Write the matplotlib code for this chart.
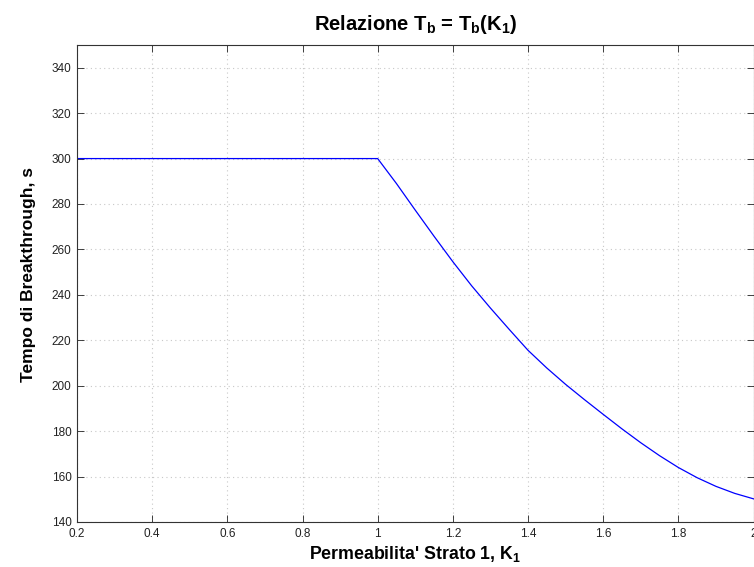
import matplotlib
matplotlib.use("Agg")
import matplotlib.pyplot as plt

# data
k1 = [0.2, 1.0, 1.05, 1.1, 1.15, 1.2, 1.25, 1.3, 1.35, 1.4, 1.45, 1.5,
      1.55, 1.6, 1.65, 1.7, 1.75, 1.8, 1.85, 1.9, 1.95, 2.0]
tb = [300.0, 300.0, 289.0, 277.3, 265.8, 254.6, 244.0, 234.2, 224.8, 215.6, 207.8, 200.6,
      193.9, 187.4, 181.0, 174.9, 169.2, 164.0, 159.5, 155.7, 152.6, 150.2]

xticks = [0.2, 0.4, 0.6, 0.8, 1, 1.2, 1.4, 1.6, 1.8, 2]
xticklabels = ["0.2", "0.4", "0.6", "0.8", "1", "1.2", "1.4", "1.6", "1.8", "2"]
yticks = list(range(140, 341, 20))

plt.rcParams["font.family"] = ["Liberation Sans", "DejaVu Sans"]
plt.rcParams["mathtext.fontset"] = "custom"
plt.rcParams["mathtext.rm"] = "Liberation Sans"
plt.rcParams["mathtext.bf"] = "Liberation Sans:bold"

fig = plt.figure(figsize=(7.54, 5.67), dpi=100)
ax = fig.add_axes([77 / 754, 1 - 522 / 567, 676.5 / 754, 477 / 567])

ax.plot(k1, tb, color="#0000ff", lw=0.9)

ax.set_xlim(0.2, 2)
ax.set_ylim(140, 350)
ax.set_xticks(xticks)
ax.set_xticklabels(xticklabels)
ax.set_yticks(yticks)
ax.grid(True, color="#c8c8c8", linestyle=(0, (1, 3)), lw=0.8)
ax.tick_params(direction="in", length=5, width=0.6, top=True, right=True,
               labelsize=8.5, colors="#222222", pad=4)
for s in ax.spines.values():
    s.set_color("#333333")
    s.set_linewidth(0.8)

fig.text(415.5 / 754, 1 - 30 / 567,
         r"Relazione T$_\mathbf{b}$ = T$_\mathbf{b}$(K$_\mathbf{1}$)",
         fontsize=14.5, fontweight="bold", ha="center", va="baseline")
ax.set_xlabel(r"Permeabilita' Strato 1, K$_\mathbf{1}$", fontsize=12.8, fontweight="bold", labelpad=3)
ax.set_ylabel("Tempo di Breakthrough, s", fontsize=12.5, fontweight="bold")
ax.yaxis.set_label_coords((36 - 77) / 677, 0.518)

fig.savefig("out.png", dpi=100)
